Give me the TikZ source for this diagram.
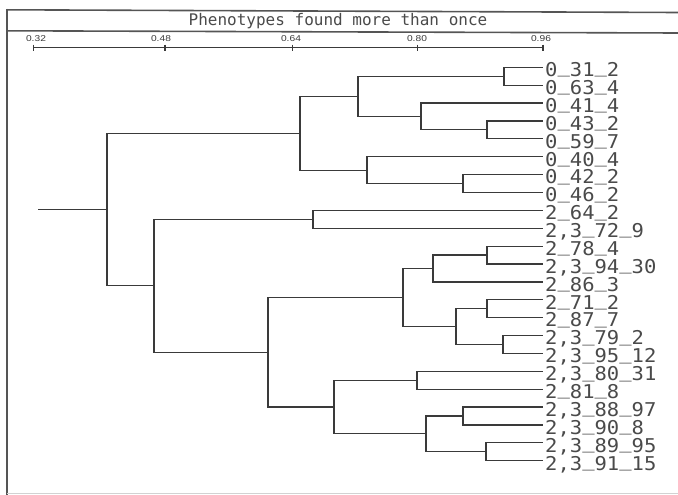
\documentclass[tikz,border=0pt]{standalone}
\usepackage{fontspec}
\newfontfamily\labfont{DejaVu Sans Mono}[FakeStretch=1.08]
\newfontfamily\titfont{DejaVu Sans Mono}
\newfontfamily\axfont{Liberation Sans}[FakeStretch=1.2]
\definecolor{ink}{HTML}{3A3A3A}
\definecolor{txtink}{HTML}{4A4A4A}
\definecolor{frameink}{HTML}{555555}
\newcommand\us{\raisebox{3.6pt}{\_}}
\tikzset{
  br/.style={draw=ink, line width=1.2pt},
  framel/.style={draw=frameink, line width=1.6pt},
  lab/.style={anchor=base west, inner sep=0pt, text height=13.5pt, text depth=1pt, text=txtink, font=\labfont\fontsize{19}{19}\selectfont},
  axlab/.style={anchor=base, inner sep=0pt, text=ink, font=\axfont\fontsize{8.5}{8.5}\selectfont},
  tit/.style={anchor=base, inner sep=0pt, text=txtink, font=\titfont\fontsize{16}{16}\selectfont},
}
\begin{document}
\begin{tikzpicture}[x=1pt,y=-1pt]
\useasboundingbox (0,0) rectangle (678,495);
% frame
\draw[framel] (7,9.8) -- (678,12.5);
\draw[framel] (7,30.8) -- (678,33);
\draw[framel] (7,9) -- (7,495);
\draw[draw=gray!35, line width=0.8pt] (7,493.5) -- (678,493.5);
\node[tit] (title) at (338,26) {Phenotypes found more than once};
% axis
\foreach \n/\x/\lx/\t in {k1/33.3/36/0.32, k2/165/161/0.48, k3/292.7/291/0.64, k4/417.7/417/0.80, k5/543/541/0.96}{
  \coordinate (\n) at (\x,47.7);
  \draw[br] (\x,44.7) -- (\x,50.7);
  \node[axlab] (lab\n) at (\lx,41.5) {\t};
}
\draw[br] (k1) -- (k5);
% leaves
\foreach \i/\y/\t in {
 1/67.3/{0\us31\us2}, 2/85.2/{0\us63\us4}, 3/103.1/{0\us41\us4}, 4/120.9/{0\us43\us2},
 5/138.8/{0\us59\us7}, 6/156.7/{0\us40\us4}, 7/174.6/{0\us42\us2}, 8/192.5/{0\us46\us2},
 9/210.3/{2\us64\us2}, 10/228.2/{2,3\us72\us9}, 11/246.1/{2\us78\us4}, 12/264.0/{2,3\us94\us30},
 13/281.9/{2\us86\us3}, 14/299.7/{2\us71\us2}, 15/317.6/{2\us87\us7}, 16/335.5/{2,3\us79\us2},
 17/353.4/{2,3\us95\us12}, 18/371.3/{2,3\us80\us31}, 19/389.1/{2\us81\us8}, 20/407.0/{2,3\us88\us97},
 21/424.9/{2,3\us90\us8}, 22/442.8/{2,3\us89\us95}, 23/460.7/{2,3\us91\us15}}{
  \coordinate (l\i) at (543,\y);
  \node[lab] (t\i) at (545,\y+9.3) {\t};
}
% internal nodes
\coordinate (a1) at (504,76.25);
\coordinate (a2) at (487,129.85);
\coordinate (a3) at (421,116.5);
\coordinate (a4) at (358,96.4);
\coordinate (a5) at (463,183.55);
\coordinate (a6) at (367,170.1);
\coordinate (a7) at (300,133.25);
\coordinate (b1) at (313,219.25);
\coordinate (c1) at (487,255.05);
\coordinate (c2) at (433,268.5);
\coordinate (c3) at (487,308.65);
\coordinate (c4) at (503,344.45);
\coordinate (c5) at (456,326.55);
\coordinate (c6) at (403,297.5);
\coordinate (d1) at (417,380.2);
\coordinate (d2) at (463,415.95);
\coordinate (d3) at (486,451.75);
\coordinate (d4) at (426,433.85);
\coordinate (d5) at (334,407.0);
\coordinate (e1) at (268,352.25);
\coordinate (b2) at (154,285.75);
\coordinate (r) at (107,209.5);
\coordinate (s) at (38,209.5);
% edges
\foreach \p/\c in {a1/l1, a1/l2, a2/l4, a2/l5, a3/l3, a3/a2, a4/a1, a4/a3,
  a5/l7, a5/l8, a6/l6, a6/a5, a7/a4, a7/a6,
  b1/l9, b1/l10,
  c1/l11, c1/l12, c2/c1, c2/l13, c3/l14, c3/l15, c4/l16, c4/l17, c5/c3, c5/c4, c6/c2, c6/c5,
  d1/l18, d1/l19, d2/l20, d2/l21, d3/l22, d3/l23, d4/d2, d4/d3, d5/d1, d5/d4,
  e1/c6, e1/d5, b2/b1, b2/e1, r/a7, r/b2}{
  \draw[br] (\p) |- (\c);
}
\draw[br] (s) -- (r);
\end{tikzpicture}
\end{document}
